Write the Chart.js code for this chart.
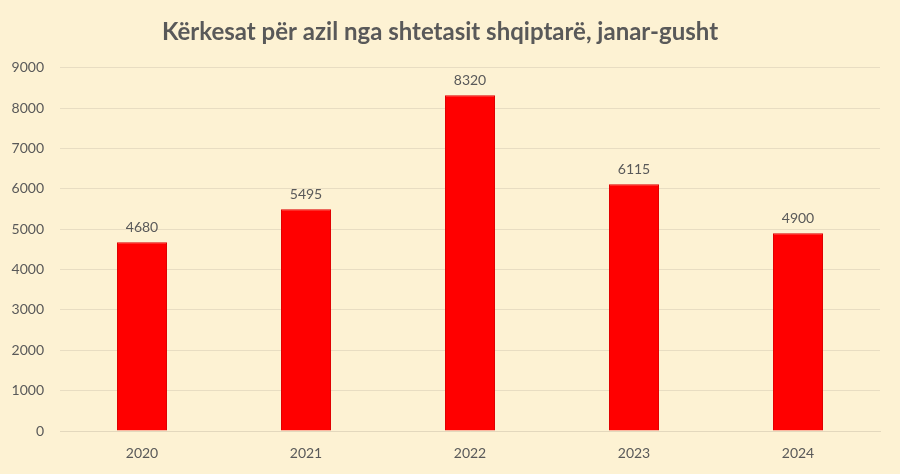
<!DOCTYPE html>
<html>
<head>
<meta charset="utf-8">
<script src="https://cdn.jsdelivr.net/npm/chart.js@4"></script>
<style>
  html, body { margin: 0; padding: 0; background: #fdf2d3; }
  #wrap { width: 900px; height: 474px; }
</style>
</head>
<body>
<div id="wrap"><canvas id="myChart" width="900" height="474"></canvas></div>
<script>
// data
const years = ['2020', '2021', '2022', '2023', '2024'];
const requests = [4680, 5495, 8320, 6115, 4900];
const yTicks = [0, 1000, 2000, 3000, 4000, 5000, 6000, 7000, 8000, 9000];

const fontName = 'Lato, "Open Sans", sans-serif';

// paint the cream background
const bgPlugin = {
    id: 'bg',
    beforeDraw(chart){
        const ctx = chart.ctx;
        ctx.save();
        ctx.fillStyle = '#fdf2d3';
        ctx.fillRect(0, 0, chart.width, chart.height);
        ctx.restore();
    }
};

// value labels above each bar
const valueLabels = {
    id: 'valueLabels',
    afterDatasetsDraw(chart){
        const ctx = chart.ctx;
        const meta = chart.getDatasetMeta(0);
        ctx.save();
        ctx.fillStyle = '#595959';
        ctx.font = '14px ' + fontName;
        ctx.textAlign = 'center';
        ctx.textBaseline = 'bottom';
        meta.data.forEach(function(bar, i){
            ctx.fillText(String(requests[i]), bar.x, bar.y - 8);
        });
        ctx.restore();
    }
};

const config = {
    type: 'bar',
    data: {
        labels: years,
        datasets: [{
            data: requests,
            backgroundColor: '#ff0000',
            borderColor: '#e00000',
            borderWidth: 1,
            barPercentage: 0.305,
            categoryPercentage: 1
        }]
    },
    options: {
        responsive: false,
        animation: false,
        layout: { padding: { left: 0, right: 20, top: 0, bottom: 12 } },
        plugins: {
            legend: { display: false },
            tooltip: { enabled: false },
            title: {
                display: true,
                text: 'Kërkesat për azil nga shtetasit shqiptarë, janar-gusht',
                color: '#595959',
                font: { family: fontName, size: 24, weight: 'bold' },
                padding: { top: 18, bottom: 21 }
            }
        },
        scales: {
            x: {
                grid: { display: false },
                border: { display: true, color: '#e3d8bd' },
                ticks: { color: '#595959', font: { family: fontName, size: 14 }, padding: 6 },
                afterFit(scale){ scale.height = 31; }
            },
            y: {
                min: 0,
                max: 9000,
                afterBuildTicks(scale){
                    scale.ticks = yTicks.map(function(v){ return { value: v }; });
                },
                grid: { color: '#e8ddc2', drawTicks: false },
                border: { display: false },
                ticks: {
                    color: '#595959',
                    font: { family: fontName, size: 14 },
                    padding: 16,
                    callback: function(v){ return String(v); }
                },
                afterFit(scale){ scale.width = 60; }
            }
        }
    },
    plugins: [bgPlugin, valueLabels]
};

var myChart = new Chart(document.getElementById('myChart').getContext('2d'), config);
</script>
</body>
</html>
